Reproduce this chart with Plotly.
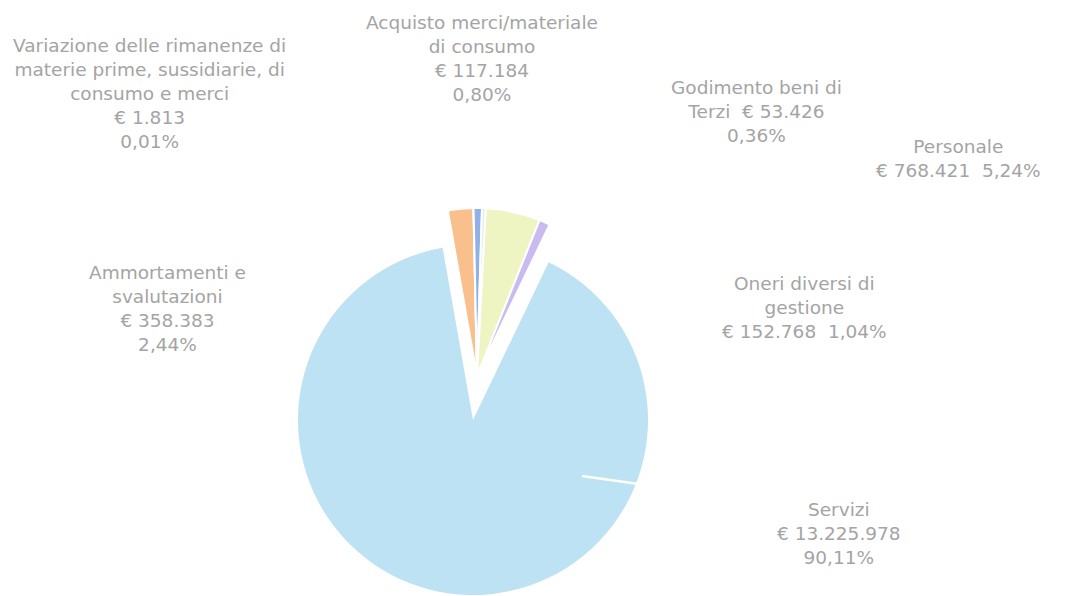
import plotly.graph_objects as go

# Cost breakdown (euro), in drawing order (clockwise from the start angle)
categories = [
    "Ammortamenti e svalutazioni",
    "Variazione delle rimanenze di materie prime, sussidiarie, di consumo e merci",
    "Acquisto merci/materiale di consumo",
    "Godimento beni di Terzi",
    "Personale",
    "Oneri diversi di gestione",
    "Servizi",
]
values = [358383, 1813, 117184, 53426, 768421, 152768, 13225978]
colors = ["#f9c08d", "#f2a7a7", "#8fb1e6", "#e2eaf6", "#eef4c2", "#c9baf0", "#bde2f4"]

# Label layouts ({v} = amount, {p} = share)
label_templates = [
    "Ammortamenti e<br>svalutazioni<br>{v}<br>{p}",
    "Variazione delle rimanenze di<br>materie prime, sussidiarie, di<br>consumo e merci<br>{v}<br>{p}",
    "Acquisto merci/materiale<br>di consumo<br>{v}<br>{p}",
    "Godimento beni di<br>Terzi\u00a0 {v}<br>{p}",
    "Personale<br>{v}\u00a0 {p}",
    "Oneri diversi di<br>gestione<br>{v}\u00a0 {p}",
    "Servizi<br>{v}<br>{p}",
]
# label centres in pixels
label_pos = [(167, 308), (149, 94), (482, 58), (756, 111), (959, 158), (804, 307), (839, 533)]

W, H = 1066, 596
total = sum(values)


def eur(v):
    return "€ " + f"{v:,}".replace(",", ".")


def pct(v):
    return f"{100 * v / total:.2f}".replace(".", ",") + "%"


def px_domain(cx, cy, r):
    return dict(x=[(cx - r) / W, (cx + r) / W], y=[1 - (cy + r) / H, 1 - (cy - r) / H])


big = len(values) - 1
rotation = -10

fig = go.Figure()

# main slice
fig.add_trace(go.Pie(
    labels=categories, values=values, sort=False, direction="clockwise", rotation=rotation,
    marker=dict(colors=[c if i == big else "rgba(0,0,0,0)" for i, c in enumerate(colors)],
                line=dict(width=0)),
    textinfo="none", hoverinfo="skip", domain=px_domain(473, 420, 175), showlegend=False,
))

# detached small slices
fig.add_trace(go.Pie(
    labels=categories, values=values, sort=False, direction="clockwise", rotation=rotation,
    marker=dict(colors=["rgba(0,0,0,0)" if i == big else c for i, c in enumerate(colors)],
                line=dict(color="white", width=[0 if i == big else 2 for i in range(len(values))])),
    textinfo="none", hoverinfo="skip", domain=px_domain(477, 376, 168), showlegend=False,
))

font = dict(family="DejaVu Sans", size=18.5, color="#a4a4a4")
for tpl, v, (x, y) in zip(label_templates, values, label_pos):
    fig.add_annotation(
        text=tpl.format(v=eur(v), p=pct(v)), x=x / W, y=1 - y / H, xref="paper", yref="paper",
        xanchor="center", yanchor="middle", align="center", showarrow=False, font=font,
    )

# leader line of the "Servizi" label across its slice
fig.add_annotation(
    text="", x=582 / W, y=1 - 476 / H, xref="paper", yref="paper",
    ax=120, ay=17, showarrow=True, arrowhead=0, arrowwidth=2.5, arrowcolor="white", standoff=0,
)

fig.update_layout(
    width=W, height=H, margin=dict(l=0, r=0, t=0, b=0),
    paper_bgcolor="white", plot_bgcolor="white", showlegend=False,
)

fig.write_html("out.html")
